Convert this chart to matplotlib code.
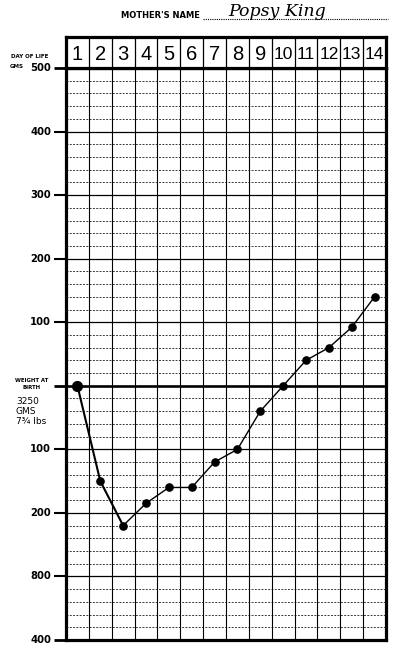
import matplotlib
matplotlib.use("Agg")
import matplotlib.pyplot as plt
from matplotlib.transforms import blended_transform_factory

# ---- data ----
days = list(range(1, 15))
weight_change = [0, -150, -220, -185, -160, -160, -120, -100, -40, 0, 40, 60, 92, 140]
level_values = [500, 400, 300, 200, 100, 0, -100, -200, -300, -400]
level_labels = ["500", "400", "300", "200", "100", "", "100", "200", "800", "400"]
mother_name = "Popsy King"
birth_lines = ["3250", "GMS", "7¾ lbs"]

W, H = 398, 651
fig = plt.figure(figsize=(W / 100, H / 100), dpi=100)
fig.patch.set_facecolor("white")

def fx(px):
    return px / W

def fy(py):
    return 1 - py / H

L, R, T, B = 66, 386, 68, 640
ax = fig.add_axes([fx(L), fy(B), fx(R) - fx(L), fy(T) - fy(B)])
ax.set_xlim(0.5, 14.5)
ax.set_ylim(-400, 500)
ax.set_xticks([])
ax.set_yticks([])
for s in ax.spines.values():
    s.set_linewidth(2.3)
    s.set_color("black")

# horizontal grid
for v in range(-400, 501, 20):
    if v % 100 == 0:
        if v == 0:
            ax.axhline(v, color="black", lw=1.9, zorder=2)
        else:
            ax.axhline(v, color="black", lw=0.9, zorder=1)
    else:
        ax.axhline(v, color="#3a3a3a", lw=0.7, ls=(0, (2.0, 1.4)), zorder=1)
# vertical grid
for d in days[:-1]:
    ax.axvline(d + 0.5, color="black", lw=0.8, zorder=1)

# data line
ax.plot(days[:3], weight_change[:3], color="black", lw=1.5, zorder=3)
ax.plot(days[2:], weight_change[2:], color="black", lw=1.0, zorder=3)
ax.plot(days, weight_change, "o", color="black", ms=5.2, zorder=4)
ax.plot(days[0], weight_change[0], "o", color="black", ms=7, zorder=4)

# left tick marks and labels
tr = blended_transform_factory(ax.transAxes, ax.transData)
xt0 = (54 - L) / (R - L)
for v, lab in zip(level_values, level_labels):
    ax.plot([xt0, 0], [v, v], color="black", lw=2.0 if v in (0, 500, -400) else 1.5,
            transform=tr, clip_on=False, solid_capstyle="butt")
    if lab:
        ax.text((51 - L) / (R - L), v, lab, transform=tr, ha="right", va="center",
                fontsize=7.2, fontweight="bold", family="DejaVu Sans")

fig.text(fx(48), fy(57), "DAY OF LIFE", ha="right", va="center",
         fontsize=4.0, fontweight="bold")
fig.text(fx(10), fy(66.5), "GMS", ha="left", va="center",
         fontsize=4.0, fontweight="bold")
fig.text(fx(32), fy(384), "WEIGHT AT\nBIRTH", ha="center", va="center",
         fontsize=3.9, fontweight="bold", linespacing=1.3)
for i, t in enumerate(birth_lines):
    fig.text(fx(16), fy(401 + i * 10.5), t, ha="left", va="center",
             fontsize=6.5, family="DejaVu Sans")

# header with day numbers
HT = 37
hax = fig.add_axes([fx(L), fy(T), fx(R) - fx(L), fy(HT) - fy(T)])
hax.set_xlim(0.5, 14.5)
hax.set_ylim(0, 1)
hax.set_xticks([])
hax.set_yticks([])
for s in hax.spines.values():
    s.set_linewidth(2.3)
for d in days[:-1]:
    hax.axvline(d + 0.5, color="black", lw=0.9)
for d in days:
    hax.text(d, 0.44, str(d), ha="center", va="center",
             fontsize=14.5 if d < 10 else 12.5,
             family=["Liberation Sans", "DejaVu Sans"])

# mother's name
fig.text(fx(121), fy(16), "MOTHER'S NAME", ha="left", va="center",
         fontsize=6.0, fontweight="bold")
fig.lines.append(plt.Line2D([fx(203), fx(388)], [fy(18.5), fy(18.5)], transform=fig.transFigure,
                            color="black", lw=0.8, ls=(0, (1, 1))))
fig.text(fx(228), fy(11), mother_name, ha="left", va="center", fontsize=12.5,
         family="DejaVu Serif", style="italic")

fig.savefig("out.png", dpi=100, facecolor="white")
